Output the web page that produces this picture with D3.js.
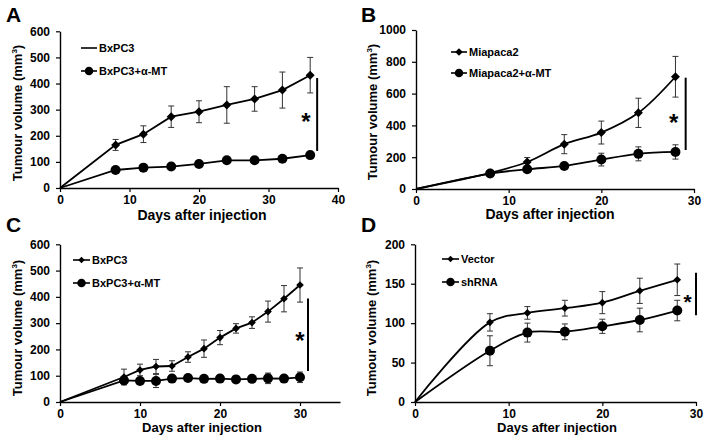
<!DOCTYPE html>
<html><head><meta charset="utf-8">
<script src="https://cdn.jsdelivr.net/npm/d3@7"></script>
<style>
body{margin:0;background:#fff;}
svg text{font-family:Arial,"Liberation Sans",sans-serif;font-weight:bold;fill:#000;}
</style></head>
<body><svg id="c" width="709" height="442"></svg>
<script>
// ---------- Panel A ----------
const daysA = [0, 8, 12, 16, 20, 24, 28, 32, 36];
const bxpc3A = [0, 165, 206, 273, 292, 318, 341, 375, 432];
const bxpc3AErr = [0, 21, 32, 41, 42, 70, 47, 69, 68];
const bxpc3MtA = [0, 69, 78, 82, 92, 106, 106, 112, 126];
const bxpc3MtAErr = [0, 5, 5, 5, 6, 6, 6, 7, 8];
const legendA = ["BxPC3", "BxPC3+α-MT"];
const xTicksA = [0, 10, 20, 30, 40];
const yTicksA = [0, 100, 200, 300, 400, 500, 600];

// ---------- Panel B ----------
const daysB = [0, 8, 12, 16, 20, 24, 28];
const miaB = [0, 101, 170, 282, 355, 479, 706];
const miaBErr = [0, 8, 28, 60, 72, 92, 128];
const miaMtB = [0, 97, 124, 145, 185, 221, 233];
const miaMtBErr = [0, 8, 10, 12, 40, 44, 45];
const legendB = ["Miapaca2", "Miapaca2+α-MT"];
const xTicksB = [0, 10, 20, 30];
const yTicksB = [0, 200, 400, 600, 800, 1000];

// ---------- Panel C ----------
const daysC = [0, 8, 10, 12, 14, 16, 18, 20, 22, 24, 26, 28, 30];
const bxpc3C = [0, 95, 122, 135, 137, 171, 203, 245, 280, 302, 344, 393, 445];
const bxpc3CErr = [0, 30, 22, 27, 20, 20, 33, 27, 18, 22, 40, 50, 65];
const bxpc3MtC = [0, 82, 80, 80, 89, 91, 88, 89, 86, 88, 90, 89, 94];
const bxpc3MtCErr = [0, 12, 10, 25, 8, 8, 8, 8, 10, 10, 20, 10, 20];
const legendC = ["BxPC3", "BxPC3+α-MT"];
const xTicksC = [0, 10, 20, 30];
const yTicksC = [0, 100, 200, 300, 400, 500, 600];

// ---------- Panel D ----------
const daysD = [0, 8, 12, 16, 20, 24, 28];
const vectorD = [0, 101, 113, 119, 126, 141, 155];
const vectorDErr = [0, 11, 8, 10, 14, 16, 20];
const shrnaD = [0, 65, 88, 89, 96, 104, 116];
const shrnaDErr = [0, 19, 12, 10, 9, 15, 13];
const legendD = ["Vector", "shRNA"];
const xTicksD = [0, 10, 20, 30];
const yTicksD = [0, 50, 100, 150, 200];

// significance bars [x, yLow, yHigh, starX, starY] in data units
const sigA = [37, 142, 421, 35.4, 272];
const sigB = [29.1, 245, 700, 27.8, 446];
const sigC = [31, 118, 394, 30, 250];
const sigD = [30, 110, 164, 29.1, 133];

const svg = d3.select("#c");

function panel(o) {
  const g = svg.append("g");
  const x = d3.scaleLinear().domain(o.xDomain).range([o.px0, o.px1]);
  const y = d3.scaleLinear().domain(o.yDomain).range([o.py0, o.py1]);

  // axes
  const ax = g.append("g").attr("transform", `translate(0,${o.py0})`)
    .call(d3.axisBottom(x).tickValues(o.xTicks).tickFormat(d3.format("d")).tickSize(4).tickPadding(3).tickSizeOuter(0));
  const ay = g.append("g").attr("transform", `translate(${o.px0},0)`)
    .call(d3.axisLeft(y).tickValues(o.yTicks).tickFormat(d3.format("d")).tickSize(4).tickPadding(6).tickSizeOuter(0));
  [ax, ay].forEach(a => {
    a.select(".domain").attr("stroke", "#000").attr("stroke-width", 1.4);
    a.selectAll(".tick line").attr("stroke", "#000").attr("stroke-width", 1.2);
    a.selectAll("text").attr("font-size", 12).attr("font-family", "Arial, 'Liberation Sans', sans-serif").attr("font-weight", "bold");
  });

  const curve = o.smooth ? d3.curveCatmullRom.alpha(0.5) : d3.curveLinear;
  const line = d3.line().x((d, i) => x(o.days[i])).y(d => y(d)).curve(curve);

  o.series.forEach(s => {
    g.append("path").datum(s.v).attr("d", line)
      .attr("fill", "none").attr("stroke", "#000").attr("stroke-width", 1.8);
    s.v.forEach((v, i) => {
      if (i === 0 || !s.e[i]) return;
      const cx = x(o.days[i]);
      const yt = y(v + s.e[i]), yb = y(v - s.e[i]);
      g.append("line").attr("x1", cx).attr("x2", cx).attr("y1", yt).attr("y2", yb)
        .attr("stroke", "#333").attr("stroke-width", 1);
      [yt, yb].forEach(yy => g.append("line").attr("x1", cx - 3).attr("x2", cx + 3)
        .attr("y1", yy).attr("y2", yy).attr("stroke", "#333").attr("stroke-width", 1));
    });
  });
  o.series.forEach(s => {
    s.v.forEach((v, i) => {
      if (i === 0) return;
      marker(g, s.m, x(o.days[i]), y(v), s.ms);
    });
  });

  // legend
  o.legend.forEach((name, i) => {
    const ly = o.leg.y[i];
    g.append("line").attr("x1", o.leg.x0).attr("x2", o.leg.x1).attr("y1", ly).attr("y2", ly)
      .attr("stroke", "#000").attr("stroke-width", 1.6);
    const s = o.series[i];
    if (o.leg.markers[i]) marker(g, s.m, (o.leg.x0 + o.leg.x1) / 2, ly, s.ms * 0.85);
    g.append("text").attr("x", o.leg.x1 + 2).attr("y", ly + 4).attr("font-size", 11).text(name);
  });

  // significance
  const sg = o.sig;
  g.append("line").attr("x1", x(sg[0])).attr("x2", x(sg[0])).attr("y1", y(sg[1])).attr("y2", y(sg[2]))
    .attr("stroke", "#000").attr("stroke-width", 2);
  g.append("text").attr("x", x(sg[3])).attr("y", y(sg[4]) + o.starSize * 0.55).attr("text-anchor", "middle")
    .attr("font-size", o.starSize).text("*");

  // titles
  g.append("text").attr("x", o.xt[0]).attr("y", o.xt[1]).attr("text-anchor", "middle")
    .attr("font-size", o.xtSize).text("Days after injection");
  const yt = g.append("text").attr("transform", `translate(${o.yt[0]},${o.yt[1]}) rotate(-90)`)
    .attr("text-anchor", "middle").attr("font-size", 13);
  yt.append("tspan").text("Tumour volume (mm");
  yt.append("tspan").attr("font-size", 8).attr("dy", -5).text("3");
  yt.append("tspan").attr("dy", 5).text(")");
  g.append("text").attr("x", o.letter[0]).attr("y", o.letter[1]).attr("font-size", 21).text(o.name);
}

function marker(g, type, cx, cy, r) {
  if (type === "circle") {
    g.append("circle").attr("cx", cx).attr("cy", cy).attr("r", r).attr("fill", "#000");
  } else {
    g.append("path").attr("d", `M${cx},${cy - r}L${cx + r},${cy}L${cx},${cy + r}L${cx - r},${cy}Z`).attr("fill", "#000");
  }
}

panel({
  name: "A", letter: [6, 22], days: daysA, xDomain: [0, 40], yDomain: [0, 600],
  px0: 60, px1: 338, py0: 188, py1: 31.3, xTicks: xTicksA, yTicks: yTicksA, smooth: false,
  series: [{ v: bxpc3A, e: bxpc3AErr, m: "diamond", ms: 4.5 }, { v: bxpc3MtA, e: bxpc3MtAErr, m: "circle", ms: 5 }],
  legend: legendA, leg: { x0: 81, x1: 97, y: [48, 71], markers: [false, true] },
  sig: sigA, starSize: 24, xt: [202, 220], xtSize: 14, yt: [22, 113]
});
panel({
  name: "B", letter: [361, 22], days: daysB, xDomain: [0, 30], yDomain: [0, 1000],
  px0: 416, px1: 694, py0: 189, py1: 30, xTicks: xTicksB, yTicks: yTicksB, smooth: true,
  series: [{ v: miaB, e: miaBErr, m: "diamond", ms: 4.5 }, { v: miaMtB, e: miaMtBErr, m: "circle", ms: 5 }],
  legend: legendB, leg: { x0: 451, x1: 467, y: [52, 73], markers: [true, true] },
  sig: sigB, starSize: 24, xt: [550, 219], xtSize: 14, yt: [377, 112]
});
panel({
  name: "C", letter: [6, 232], days: daysC, xDomain: [0, 35], yDomain: [0, 600],
  px0: 60, px1: 340, py0: 402, py1: 244.3, xTicks: xTicksC, yTicks: yTicksC, smooth: false,
  series: [{ v: bxpc3C, e: bxpc3CErr, m: "diamond", ms: 3.8 }, { v: bxpc3MtC, e: bxpc3MtCErr, m: "circle", ms: 5 }],
  legend: legendC, leg: { x0: 73, x1: 90, y: [260, 283], markers: [true, true] },
  sig: sigC, starSize: 24, xt: [202, 432], xtSize: 13, yt: [22, 328]
});
panel({
  name: "D", letter: [361, 232], days: daysD, xDomain: [0, 30], yDomain: [0, 200],
  px0: 415, px1: 696, py0: 402, py1: 244.3, xTicks: xTicksD, yTicks: yTicksD, smooth: true,
  series: [{ v: vectorD, e: vectorDErr, m: "diamond", ms: 3.8 }, { v: shrnaD, e: shrnaDErr, m: "circle", ms: 5 }],
  legend: legendD, leg: { x0: 442, x1: 459, y: [259, 282], markers: [true, true] },
  sig: sigD, starSize: 21, xt: [557, 432], xtSize: 13, yt: [376, 328]
});
</script></body></html>
